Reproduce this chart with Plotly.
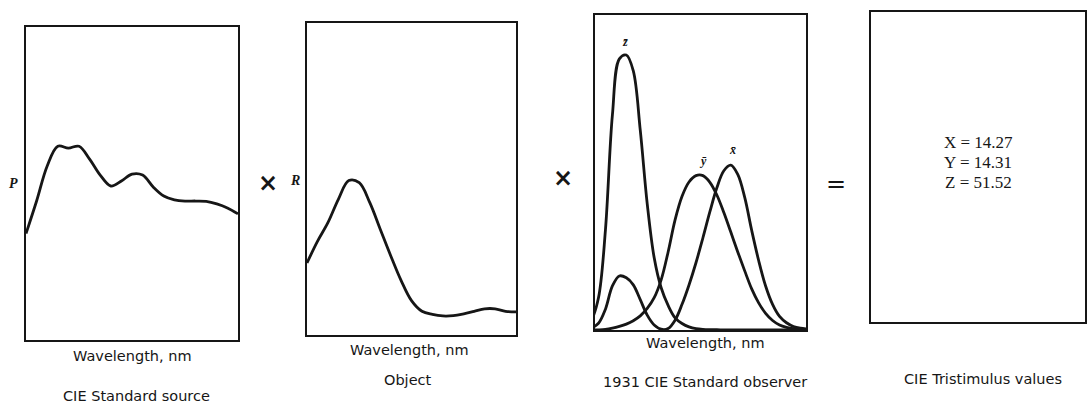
import plotly.graph_objects as go

W, H = 1087, 407

# ---- data -------------------------------------------------------------
# Relative spectral power of the source (arbitrary units, 0-100)
SOURCE_WL = [380, 400, 420, 440, 460, 480, 500, 520, 540, 560, 580,
             600, 620, 640, 660, 680, 700, 720, 740, 760, 780]
SOURCE_POWER = [34.0, 44.4, 55.6, 61.9, 61.3, 61.9, 57.8, 52.7, 49.2, 50.8, 53.0,
                52.7, 48.9, 46.0, 44.8, 44.4, 44.4, 44.3, 43.5, 42.2, 40.3]

# Spectral reflectance of the object (arbitrary units, 0-100)
OBJECT_WL = [380, 400, 420, 440, 460, 480, 500, 520, 540, 560, 580,
             600, 620, 640, 660, 680, 700, 720, 740, 760, 780]
OBJECT_REFLECTANCE = [23.1, 30.0, 36.0, 43.5, 49.5, 48.8, 42.5, 34.0, 25.5, 17.5, 11.0,
                      7.6, 6.6, 6.1, 6.2, 6.8, 7.6, 8.4, 8.4, 7.6, 7.4]

# 1931 CIE 2-degree standard observer colour-matching functions
CMF_WL = [380, 390, 400, 410, 420, 430, 440, 450, 460, 470, 480, 490, 500,
          510, 520, 530, 540, 550, 560, 570, 580, 590, 600, 610, 620, 630,
          640, 650, 660, 670, 680, 690, 700, 710, 720, 730, 740, 750, 760,
          770, 780]
X_BAR = [0.00137, 0.00424, 0.01431, 0.04351, 0.13438, 0.28390, 0.34828, 0.33620,
         0.29080, 0.19536, 0.09564, 0.03201, 0.00490, 0.00930, 0.06327, 0.16550,
         0.29040, 0.43345, 0.59450, 0.76210, 0.91630, 1.02630, 1.06220, 1.00260,
         0.85445, 0.64240, 0.44790, 0.28350, 0.16490, 0.08740, 0.04677, 0.02270,
         0.01136, 0.00579, 0.00290, 0.00144, 0.00069, 0.00033, 0.00017, 0.00008,
         0.00004]
Y_BAR = [0.00004, 0.00012, 0.00040, 0.00121, 0.00400, 0.01160, 0.02300, 0.03800,
         0.06000, 0.09098, 0.13902, 0.20802, 0.32300, 0.50300, 0.71000, 0.86200,
         0.95400, 0.99495, 0.99500, 0.95200, 0.87000, 0.75700, 0.63100, 0.50300,
         0.38100, 0.26500, 0.17500, 0.10700, 0.06100, 0.03200, 0.01700, 0.00821,
         0.00410, 0.00209, 0.00105, 0.00052, 0.00025, 0.00012, 0.00006, 0.00003,
         0.00002]
Z_BAR = [0.00645, 0.02005, 0.06785, 0.20740, 0.64560, 1.38560, 1.74706, 1.77211,
         1.66920, 1.28764, 0.81295, 0.46518, 0.27200, 0.15820, 0.07825, 0.04216,
         0.02030, 0.00875, 0.00390, 0.00210, 0.00165, 0.00110, 0.00080, 0.00034,
         0.00019, 0.00005, 0.00002, 0.0, 0.0, 0.0, 0.0, 0.0,
         0.0, 0.0, 0.0, 0.0, 0.0, 0.0, 0.0, 0.0, 0.0]

TRISTIMULUS_NAMES = ["X", "Y", "Z"]
TRISTIMULUS_VALUES = [14.27, 14.31, 51.52]

AXIS_TITLE = "Wavelength, nm"
CAPTIONS = ["CIE Standard source", "Object", "1931 CIE Standard observer",
            "CIE Tristimulus values"]

# ---- layout helpers ---------------------------------------------------
def fx(px):
    return px / W


def fy(py):
    return 1 - py / H


INK = "#161616"
SANS = "DejaVu Sans, Verdana, sans-serif"
SERIF = "Liberation Serif, Times New Roman, serif"

# panel boxes in pixels: (left, right, top, bottom)
boxes = [(26, 238, 27, 340), (307, 516, 23, 335), (595, 806, 15, 330), (871, 1085, 12, 322)]
x_ranges = [[380, 780], [380, 780], [405, 708], [0, 1]]
y_ranges = [[0, 100], [0, 100], [0, 2.03], [0, 1]]

fig = go.Figure()

layout = dict(
    width=W, height=H,
    margin=dict(l=0, r=0, t=0, b=0),
    paper_bgcolor="white", plot_bgcolor="white",
    showlegend=False,
)

for i, (l, r, t, b) in enumerate(boxes):
    sfx = "" if i == 0 else str(i + 1)
    axis_common = dict(showgrid=False, zeroline=False, showticklabels=False,
                       ticks="", showline=True, mirror=True,
                       linecolor=INK, linewidth=2)
    layout["xaxis" + sfx] = dict(domain=[fx(l), fx(r)], range=x_ranges[i],
                                 anchor="y" + sfx, **axis_common)
    layout["yaxis" + sfx] = dict(domain=[fy(b), fy(t)], range=y_ranges[i],
                                 anchor="x" + sfx, **axis_common)

fig.update_layout(**layout)

line = dict(color=INK, width=2.8, shape="spline", smoothing=1.0)

fig.add_trace(go.Scatter(x=SOURCE_WL, y=SOURCE_POWER, mode="lines", line=line,
                         xaxis="x", yaxis="y", hoverinfo="skip"))
fig.add_trace(go.Scatter(x=OBJECT_WL, y=OBJECT_REFLECTANCE, mode="lines", line=line,
                         xaxis="x2", yaxis="y2", hoverinfo="skip"))
for series in (Z_BAR, Y_BAR, X_BAR):
    fig.add_trace(go.Scatter(x=CMF_WL, y=series, mode="lines", line=line,
                             xaxis="x3", yaxis="y3", hoverinfo="skip"))
# empty frame that holds the tristimulus result
fig.add_trace(go.Scatter(x=[], y=[], mode="lines", xaxis="x4", yaxis="y4",
                         hoverinfo="skip"))

ann = []


def text(px, py, s, size, family=SANS, **kw):
    ann.append(dict(x=fx(px), y=fy(py), xref="paper", yref="paper", text=s,
                    showarrow=False, xanchor=kw.pop("xanchor", "center"),
                    yanchor="middle", font=dict(size=size, family=family, color=INK),
                    **kw))


# axis titles and captions
wl_pos = [(132, 356), (409, 350), (705, 343)]
for px, py in wl_pos:
    text(px, py, AXIS_TITLE, 14.5)
cap_pos = [(136, 396), (408, 380), (705, 382), (983, 379)]
for (px, py), cap in zip(cap_pos, CAPTIONS):
    text(px, py, cap, 14.5)

# quantity symbols beside the boxes
text(13, 183, "<b><i>P</i></b>", 14, SERIF)
text(295, 180, "<b><i>R</i></b>", 14, SERIF)

# operators between panels
text(268, 183, "<b>×</b>", 24, SANS)
text(563, 178, "<b>×</b>", 24, SANS)
text(836, 184, "=", 24, SANS)

# colour-matching function labels
text(625, 42, "<b><i>z̄</i></b>", 12, SERIF)
text(703, 161, "<b><i>ȳ</i></b>", 12, SERIF)
text(732, 150, "<b><i>x̄</i></b>", 12, SERIF)

# tristimulus result
for k, (name, val) in enumerate(zip(TRISTIMULUS_NAMES, TRISTIMULUS_VALUES)):
    text(978, 142 + 20 * k, f"{name} = {val:.2f}", 17, SERIF)

fig.update_layout(annotations=ann)

fig.write_html("out.html")
